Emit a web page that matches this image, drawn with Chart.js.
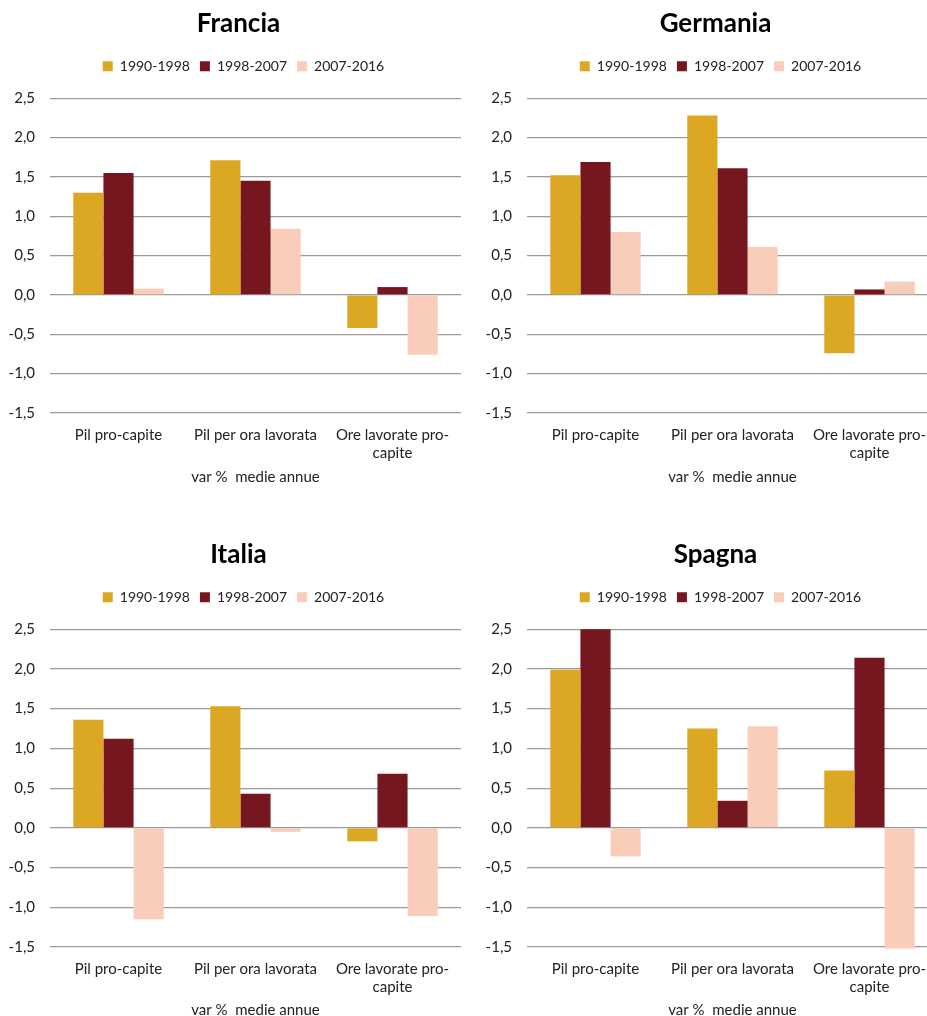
<!DOCTYPE html>
<html>
<head>
<meta charset="utf-8">
<script src="https://cdn.jsdelivr.net/npm/chart.js@4"></script>
<style>
  html, body { margin: 0; padding: 0; background: #fff; }
  body { width: 927px; height: 1016px; overflow: hidden; position: relative; }
  .box { position: absolute; width: 478px; }
</style>
</head>
<body>
<div class="box" style="left:0;top:0;height:490px"><canvas id="c1"></canvas></div>
<div class="box" style="left:477px;top:0;height:490px"><canvas id="c2"></canvas></div>
<div class="box" style="left:0;top:531px;height:492px"><canvas id="c3"></canvas></div>
<div class="box" style="left:477px;top:531px;height:492px"><canvas id="c4"></canvas></div>
<script>
// categorie e periodi
const categorie = ['Pil pro-capite', 'Pil per ora lavorata', ['Ore lavorate pro-', 'capite']];
const periodi = ['1990-1998', '1998-2007', '2007-2016'];
const yTicks = [-1.5, -1.0, -0.5, 0.0, 0.5, 1.0, 1.5, 2.0, 2.5];

// valori per periodo (una riga per periodo, una colonna per categoria)
const francia = [
  [1.30, 1.71, -0.42],
  [1.55, 1.45, 0.10],
  [0.08, 0.84, -0.76]
];
const germania = [
  [1.52, 2.28, -0.74],
  [1.69, 1.61, 0.07],
  [0.80, 0.61, 0.17]
];
const italia = [
  [1.36, 1.53, -0.17],
  [1.12, 0.43, 0.68],
  [-1.15, -0.05, -1.11]
];
const spagna = [
  [1.99, 1.25, 0.72],
  [2.50, 0.34, 2.14],
  [-0.36, 1.28, -1.52]
];

const colori = ['#DCA823', '#76161E', '#F8CDBA'];
const font = 'Lato, "Open Sans", sans-serif';

// spazio sotto la legenda e titolo/legenda spostati come nell'originale
const ritocchi = {
  id: 'ritocchi',
  beforeInit(chart) {
    const fit = chart.legend.fit;
    chart.legend.fit = function () {
      fit.call(this);
      this.height += 15;
    };
  },
  afterLayout(chart) {
    chart.titleBlock.left += 8;
    chart.titleBlock.right += 8;
    chart.legend.left += 13;
    chart.legend.right += 13;
  }
};

function disegna(id, titolo, valori, altezzaX) {
  const ctx = document.getElementById(id);
  new Chart(ctx, {
    type: 'bar',
    data: {
      labels: categorie,
      datasets: periodi.map((p, i) => ({
        label: p,
        data: valori[i],
        backgroundColor: colori[i],
        borderWidth: 0,
        categoryPercentage: 0.66,
        barPercentage: 1.0,
        clip: false
      }))
    },
    plugins: [ritocchi],
    options: {
      responsive: true,
      maintainAspectRatio: false,
      animation: false,
      layout: { padding: { left: 0, right: 17, top: 0, bottom: 0 } },
      plugins: {
        title: {
          display: true,
          text: titolo,
          color: '#000',
          font: { family: font, size: 26, weight: 'bold' },
          padding: { top: 8, bottom: 10 }
        },
        legend: {
          position: 'top',
          labels: {
            color: '#222',
            font: { family: font, size: 14 },
            boxWidth: 10,
            boxHeight: 10,
            padding: 10
          }
        },
        tooltip: { enabled: false }
      },
      scales: {
        y: {
          min: yTicks[0],
          max: yTicks[yTicks.length - 1],
          afterBuildTicks: (axis) => { axis.ticks = yTicks.map(v => ({ value: v })); },
          afterFit: (axis) => { axis.width = 50; },
          ticks: {
            color: '#222',
            font: { family: font, size: 15 },
            padding: 15,
            callback: (v) => v.toFixed(1).replace('.', ',')
          },
          grid: { color: '#9a9a9a', lineWidth: 1.2, drawTicks: false },
          border: { display: false }
        },
        x: {
          afterFit: (axis) => { axis.height = altezzaX; },
          ticks: {
            color: '#222',
            font: { family: font, size: 15 },
            maxRotation: 0,
            padding: 13
          },
          grid: { display: false, drawTicks: false },
          border: { display: false },
          title: {
            display: true,
            text: 'var %  medie annue',
            color: '#222',
            font: { family: font, size: 15 },
            padding: { top: 4, bottom: 4 }
          }
        }
      }
    }
  });
}

disegna('c1', 'Francia', francia, 77);
disegna('c2', 'Germania', germania, 77);
disegna('c3', 'Italia', italia, 76);
disegna('c4', 'Spagna', spagna, 76);
</script>
</body>
</html>
